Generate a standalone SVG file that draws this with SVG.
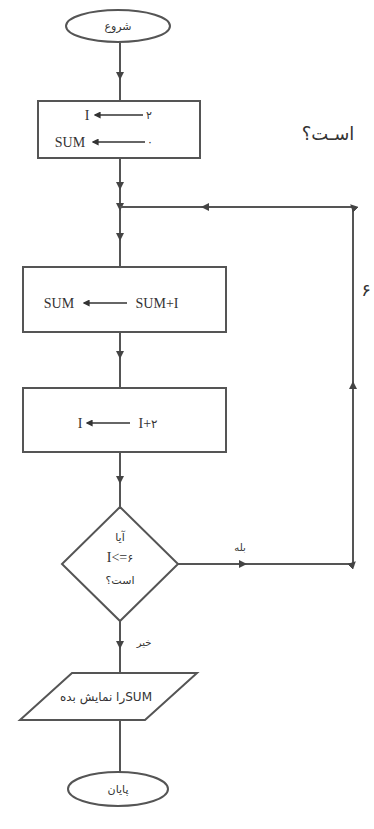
<svg xmlns="http://www.w3.org/2000/svg" width="374" height="829" viewBox="0 0 374 829">
<defs>
<marker id="mid" viewBox="0 0 10 10" refX="5" refY="5" markerWidth="8" markerHeight="8" markerUnits="userSpaceOnUse" orient="auto">
<path d="M0,0 L10,5 L0,10 Z" fill="#444"/>
</marker>
<marker id="ah" viewBox="0 0 10 10" refX="8" refY="5" markerWidth="7" markerHeight="7" markerUnits="userSpaceOnUse" orient="auto">
<path d="M0,0 L10,5 L0,10 Z" fill="#333"/>
</marker>
</defs>
<style>
.shape{fill:#fff;stroke:#555;stroke-width:2}
.conn{fill:none;stroke:#555;stroke-width:2;marker-mid:url(#mid)}
.t{font-family:"Liberation Serif","DejaVu Sans",serif;fill:#333;font-size:14px;text-anchor:middle}
.fa{font-family:"DejaVu Sans","Noto Sans",sans-serif;fill:#333;text-anchor:middle}
.as{stroke:#333;stroke-width:1.6;fill:none;marker-end:url(#ah)}
</style>
<rect width="374" height="829" fill="#fff"/>
<g id="connectors">
<polyline class="conn" points="120,43 120,76 120,101"/>
<polyline class="conn" points="120,158 120,186 120,207 120,237 120,267"/>
<polyline class="conn" points="120,332 120,355 120,388"/>
<polyline class="conn" points="120,452 120,480 120,507"/>
<polyline class="conn" points="178,564 243,564 353,564 353,385 353,207 205,207 120,207"/>
<polyline class="conn" points="120,621 120,645 120,673"/>
<line x1="120" y1="720" x2="120" y2="772" stroke="#555" stroke-width="2"/>
<text class="fa" x="240" y="551" font-size="10">بله</text>
<text class="fa" x="144" y="646" font-size="10">خیر</text>
</g>
<g id="start">
<ellipse class="shape" cx="118" cy="26" rx="52" ry="16"/>
<text class="fa" x="118" y="30" font-size="11">شروع</text>
</g>
<g id="init">
<rect class="shape" x="38" y="101" width="162" height="57"/>
<text class="t" x="87" y="120">I</text>
<line class="as" x1="143" y1="115" x2="95" y2="115"/>
<text class="fa" x="149" y="119" font-size="11">۲</text>
<text class="t" x="70" y="147">SUM</text>
<line class="as" x1="145" y1="142" x2="93" y2="142"/>
<text class="fa" x="150" y="146" font-size="11">۰</text>
</g>
<g id="sum">
<rect class="shape" x="23" y="267" width="203" height="65"/>
<text class="t" x="59" y="308">SUM</text>
<line class="as" x1="127" y1="303" x2="84" y2="303"/>
<text class="t" x="157" y="308">SUM+I</text>
</g>
<g id="inc">
<rect class="shape" x="23" y="388" width="203" height="64"/>
<text class="t" x="80" y="428">I</text>
<line class="as" x1="130" y1="423" x2="87" y2="423"/>
<text class="t" x="148" y="428">I+<tspan font-family="DejaVu Sans" font-size="12">۲</tspan></text>
</g>
<g id="decision">
<polygon class="shape" points="120,507 178,564 120,621 62,564"/>
<text class="fa" x="120" y="541" font-size="11">آیا</text>
<text class="t" x="120" y="562" font-size="12">I&lt;=<tspan font-family="DejaVu Sans" font-size="11">۶</tspan></text>
<text class="fa" x="120" y="584" font-size="11">است؟</text>
</g>
<g id="output">
<polygon class="shape" points="72,673 197,673 145,720 20,720"/>
<text class="fa" x="106" y="701" font-size="12" style="direction:rtl;unicode-bidi:embed">SUMرا نمایش بده</text>
</g>
<g id="end">
<ellipse class="shape" cx="118" cy="789" rx="50" ry="17"/>
<text class="fa" x="118" y="793" font-size="11">پایان</text>
</g>
<text class="fa" x="328" y="140" font-size="18">اسـت؟</text>
<text class="fa" x="366" y="296" font-size="18">۶</text>
</svg>
